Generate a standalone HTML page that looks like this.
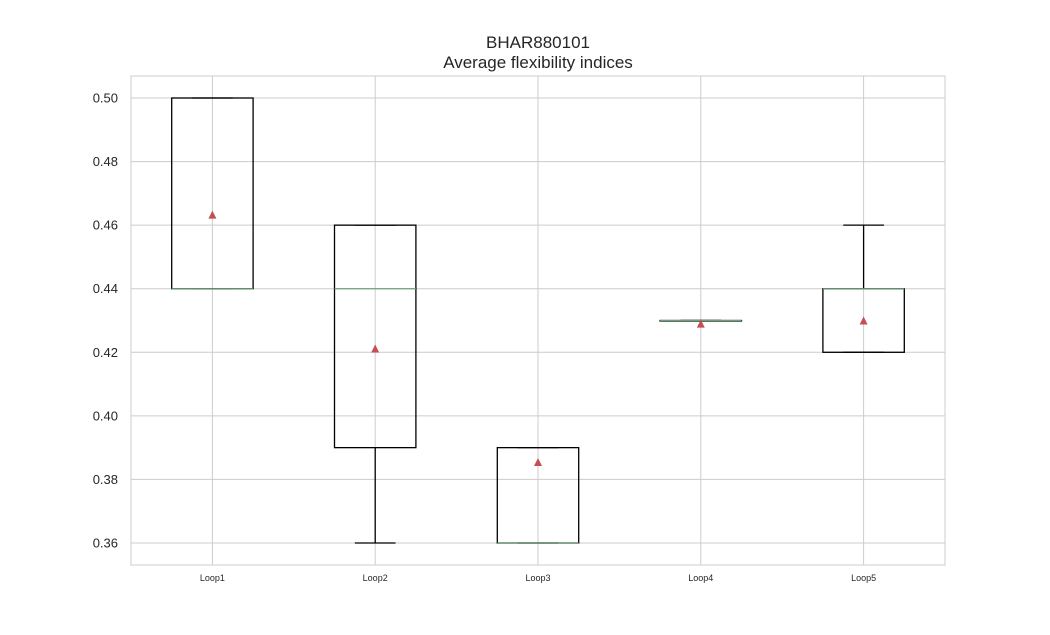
<!DOCTYPE html>
<html><head><meta charset="utf-8"><style>
body{margin:0;background:#fff;}
svg{display:block;font-family:"Liberation Sans",Arial,sans-serif;}
</style></head><body>
<svg id="chart" width="1050" height="635">
<text x="538" y="48" text-anchor="middle" font-size="17" fill="#262626">BHAR880101</text>
<text x="538" y="68" text-anchor="middle" font-size="17" fill="#262626">Average flexibility indices</text>
<g id="grid"></g>
<g id="marks"></g>
<rect x="131" y="76" width="814" height="489" fill="none" stroke="#cccccc" stroke-width="1"/>
</svg>
<script>
const categories = ["Loop1","Loop2","Loop3","Loop4","Loop5"];
const whiskerLow = [0.44,0.36,0.36,0.43,0.42];
const q1 = [0.44,0.39,0.36,0.43,0.42];
const medians = [0.44,0.44,0.36,0.43,0.44];
const q3 = [0.50,0.46,0.39,0.43,0.44];
const whiskerHigh = [0.50,0.46,0.39,0.43,0.46];
const means = [0.4633,0.4212,0.3855,0.4290,0.4300];
const yTicks = [0.36,0.38,0.40,0.42,0.44,0.46,0.48,0.50];
const yTickLabels = ["0.36","0.38","0.40","0.42","0.44","0.46","0.48","0.50"];

const L=131,R=945,T=76,B=565;
const yMin=0.35308,yMax=0.50692;
const y=v=>B-(v-yMin)/(yMax-yMin)*(B-T);
const step=(R-L)/categories.length;
const x=i=>L+step*(i+0.5);
const NS="http://www.w3.org/2000/svg";
function mk(tag,attrs,parent,text){const e=document.createElementNS(NS,tag);for(const k in attrs)e.setAttribute(k,attrs[k]);if(text!==undefined)e.textContent=text;parent.appendChild(e);return e;}
const grid=document.getElementById('grid'),marks=document.getElementById('marks');
yTicks.forEach((t,i)=>{
  const g=mk('line',{x1:L,x2:R,y1:y(t),y2:y(t),stroke:'#cccccc','stroke-width':1},grid);
  
  
  const lb=mk('text',{x:L-13,y:y(t)+4.5,'text-anchor':'end','font-size':13,fill:'#262626'},grid,yTickLabels[i]);
  
  
});
categories.forEach((c,i)=>{
  const cx=x(i);
  const g=mk('line',{x1:cx,x2:cx,y1:T,y2:B,stroke:'#cccccc','stroke-width':1},grid);
  
  
  const lb=mk('text',{x:cx,y:B+16,'text-anchor':'middle','font-size':9,fill:'#262626'},grid,c);
  
  
  const bw=step*0.5,cw=step*0.25;
  const grp=mk('g',{},marks);
  
  
  mk('line',{x1:cx,x2:cx,y1:y(q1[i]),y2:y(whiskerLow[i]),stroke:'#000','stroke-width':1.3},grp);
  mk('line',{x1:cx,x2:cx,y1:y(q3[i]),y2:y(whiskerHigh[i]),stroke:'#000','stroke-width':1.3},grp);
  mk('line',{x1:cx-cw/2,x2:cx+cw/2,y1:y(whiskerLow[i]),y2:y(whiskerLow[i]),stroke:'#000','stroke-width':1.3},grp);
  mk('line',{x1:cx-cw/2,x2:cx+cw/2,y1:y(whiskerHigh[i]),y2:y(whiskerHigh[i]),stroke:'#000','stroke-width':1.3},grp);
  mk('rect',{x:cx-bw/2,y:y(q3[i]),width:bw,height:Math.max(0.5,y(q1[i])-y(q3[i])),fill:'none',stroke:'#000','stroke-width':1.3},grp);
  mk('line',{x1:cx-bw/2,x2:cx+bw/2,y1:y(medians[i]),y2:y(medians[i]),stroke:'#6d9f7b','stroke-width':1.3},grp);
  const my=y(means[i]);
  const tri=mk('polygon',{points:`${cx-4},${my+4} ${cx+4},${my+4} ${cx},${my-4}`,fill:'#c44e52'},grp);
  
  
});
</script>
</body></html>
